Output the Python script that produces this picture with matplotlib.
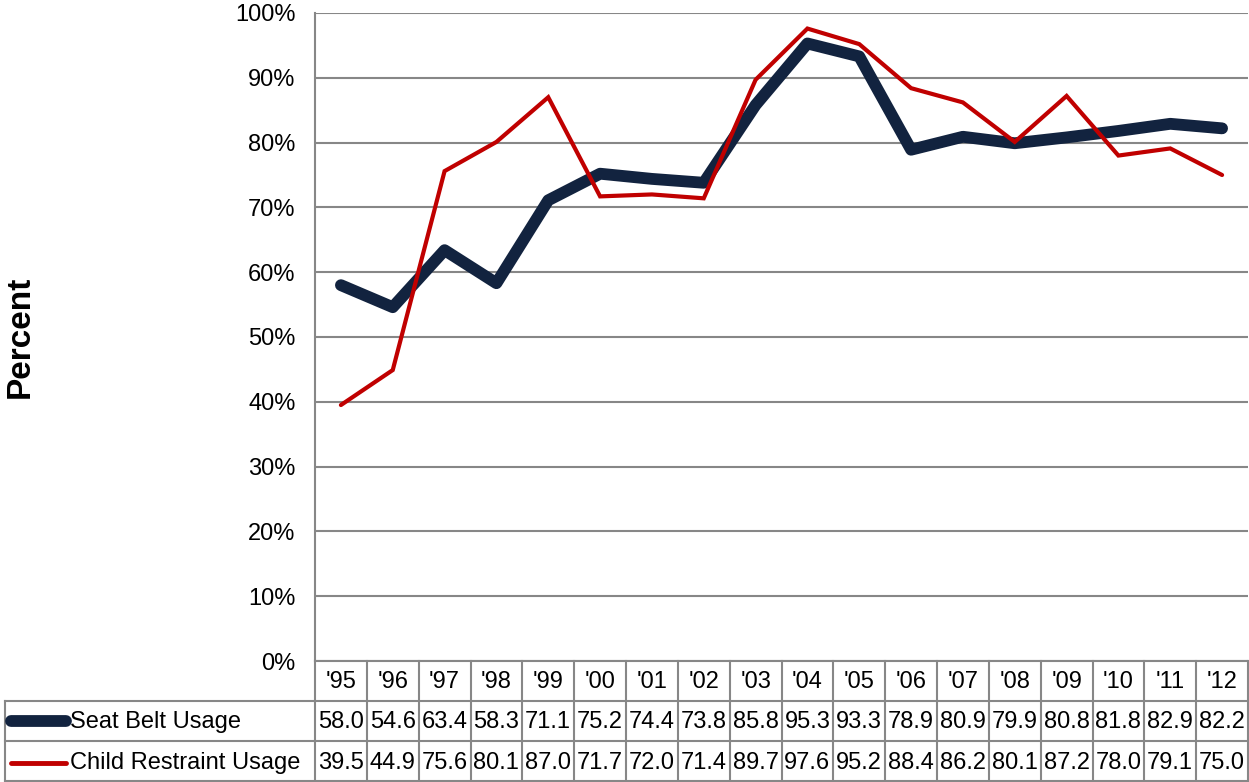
import numpy as np
import matplotlib.pyplot as plt
from matplotlib.lines import Line2D

years = ["'95", "'96", "'97", "'98", "'99", "'00", "'01", "'02", "'03",
         "'04", "'05", "'06", "'07", "'08", "'09", "'10", "'11", "'12"]
seat_belt = [58.0, 54.6, 63.4, 58.3, 71.1, 75.2, 74.4, 73.8, 85.8,
             95.3, 93.3, 78.9, 80.9, 79.9, 80.8, 81.8, 82.9, 82.2]
child_restraint = [39.5, 44.9, 75.6, 80.1, 87.0, 71.7, 72.0, 71.4, 89.7,
                   97.6, 95.2, 88.4, 86.2, 80.1, 87.2, 78.0, 79.1, 75.0]
series_names = ["Seat Belt Usage", "Child Restraint Usage"]

navy = "#12233f"
red = "#c00000"
grid = "#878787"
fs = 17
plt.rcParams['font.family'] = ['Liberation Sans', 'DejaVu Sans']

W, H = 1249, 782
fig = plt.figure(figsize=(W / 100, H / 100), dpi=100)
L, R, T, B = 315, 1248, 13, 661
ax = fig.add_axes([L / W, 1 - B / H, (R - L) / W, (B - T) / H])

n = len(years)
x = np.arange(n) + 0.5
ax.plot(x, seat_belt, color=navy, lw=8.5, solid_capstyle='round', solid_joinstyle='round', zorder=3)
ax.plot(x, child_restraint, color=red, lw=3, solid_capstyle='round', solid_joinstyle='miter', zorder=4)

ax.set_xlim(0, n)
ax.set_ylim(0, 100)
ax.set_yticks(np.arange(0, 101, 10))
ax.set_yticklabels([f"{v}%" for v in range(0, 101, 10)], fontsize=fs)
ax.yaxis.grid(True, color=grid, lw=1.5)
ax.set_axisbelow(True)
ax.tick_params(axis='y', length=0, pad=14)
ax.set_xticks([])
for s in ['top', 'right', 'bottom']:
    ax.spines[s].set_visible(False)
ax.spines['left'].set_color(grid)
ax.spines['left'].set_linewidth(1.5)

fig.text(20 / W, 1 - 337 / H, "Percent", rotation=90, fontsize=24,
         fontweight='bold', ha='center', va='center')

# data table below the plot
ph = B - T
def ay(py):
    return (B - py) / ph

trans = ax.get_xaxis_transform()
kw = dict(color=grid, lw=1.5, clip_on=False, transform=trans)
for py in [701, 741, 781]:
    ax.add_line(Line2D([0, n], [ay(py), ay(py)], **kw))
ax.add_line(Line2D([0, n], [0, 0], **kw))
for i in range(n + 1):
    ax.add_line(Line2D([i, i], [0, ay(781)], **kw))
# legend column
lx0 = (5 - L) / (R - L) * n
for py in [701, 741, 781]:
    ax.add_line(Line2D([lx0, 0], [ay(py), ay(py)], **kw))
ax.add_line(Line2D([lx0, lx0], [ay(701), ay(781)], **kw))

for i, yr in enumerate(years):
    ax.text(x[i], ay(682), yr, ha='center', va='center', fontsize=fs,
            transform=trans, clip_on=False)
    ax.text(x[i], ay(722), f"{seat_belt[i]:.1f}", ha='center', va='center',
            fontsize=fs, transform=trans, clip_on=False)
    ax.text(x[i], ay(763), f"{child_restraint[i]:.1f}", ha='center', va='center',
            fontsize=fs, transform=trans, clip_on=False)

sx0 = (11 - L) / (R - L) * n
sx1 = (66 - L) / (R - L) * n
ax.add_line(Line2D([sx0, sx1], [ay(721), ay(721)], color=navy, lw=8.5,
                   solid_capstyle='round', clip_on=False, transform=trans))
ax.add_line(Line2D([sx0, sx1], [ay(763), ay(763)], color=red, lw=3.5,
                   solid_capstyle='round', clip_on=False, transform=trans))
tx = (70 - L) / (R - L) * n
ax.text(tx, ay(722), series_names[0], ha='left', va='center', fontsize=fs,
        transform=trans, clip_on=False)
ax.text(tx, ay(763), series_names[1], ha='left', va='center', fontsize=fs,
        transform=trans, clip_on=False)

fig.savefig("out.png", dpi=100)
